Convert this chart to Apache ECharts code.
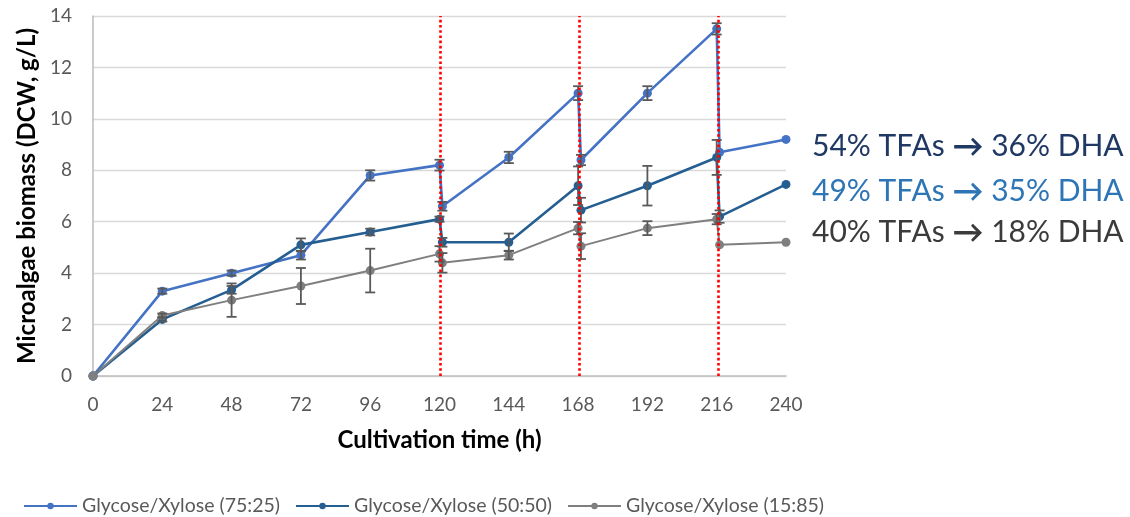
<!DOCTYPE html>
<html>
<head>
<meta charset="utf-8">
<script src="https://cdn.jsdelivr.net/npm/echarts@6/dist/echarts.min.js"></script>
<style>
  html, body { margin: 0; padding: 0; background: #ffffff; }
  #chart { width: 1130px; height: 517px; }
</style>
</head>
<body>
<div id="chart"></div>
<script>
// Sampling times (h); the extra hour after each feed marks the post-feed reading
const times = [0, 24, 48, 72, 96, 120, 121, 144, 168, 169, 192, 216, 217, 240];
const xTicks = [0, 24, 48, 72, 96, 120, 144, 168, 192, 216, 240];
const feedTimes = [120.4, 168.3, 216.4];

// Dry cell weight (g/L) and standard deviations per glucose/xylose ratio
const seriesNames = ['Glycose/Xylose (75:25)', 'Glycose/Xylose (50:50)', 'Glycose/Xylose (15:85)'];
const dcw7525 = [0, 3.3, 4.0, 4.7, 7.8, 8.2, 6.6, 8.5, 11.0, 8.4, 11.0, 13.5, 8.7, 9.2];
const sd7525  = [null, 0.1, 0.1, 0.17, 0.2, 0.21, 0.17, 0.22, 0.27, 0.2, 0.27, 0.22, null, null];
const dcw5050 = [0, 2.2, 3.35, 5.1, 5.6, 6.1, 5.2, 5.2, 7.4, 6.45, 7.4, 8.5, 6.2, 7.45];
const sd5050  = [null, 0.08, 0.15, 0.25, 0.13, 0.1, 0.17, 0.34, 0.75, 0.48, 0.77, 0.68, 0.24, null];
const dcw1585 = [0, 2.35, 2.95, 3.5, 4.1, 4.75, 4.4, 4.7, 5.75, 5.05, 5.75, 6.1, 5.1, 5.2];
const sd1585  = [null, 0.08, 0.65, 0.7, 0.85, 0.3, 0.38, 0.17, 0.24, 0.5, 0.27, 0.2, null, null];

// Lipid outcome notes: [total fatty acids, DHA]
const notes = [['54% TFAs', '36% DHA'], ['49% TFAs', '35% DHA'], ['40% TFAs', '18% DHA']];
const noteColors = ['#203864', '#2E75B6', '#3B3B3B'];

const lineColors = ['#4472C4', '#255E91', '#7F7F7F'];
const FONT = 'Lato, "Open Sans", sans-serif';

function points(values) {
  return times.map((t, i) => [t, values[i]]);
}
function errorRanges(values, sds) {
  const out = [];
  times.forEach((t, i) => {
    if (sds[i] != null) out.push([t, values[i] - sds[i], values[i] + sds[i]]);
  });
  return out;
}

function renderErrorBar(params, api) {
  const x = api.value(0);
  const lo = api.coord([x, api.value(1)]);
  const hi = api.coord([x, api.value(2)]);
  const w = 5;
  const style = { stroke: '#595959', lineWidth: 1.8 };
  return {
    type: 'group',
    children: [
      { type: 'line', shape: { x1: lo[0], y1: lo[1], x2: hi[0], y2: hi[1] }, style },
      { type: 'line', shape: { x1: lo[0] - w, y1: lo[1], x2: lo[0] + w, y2: lo[1] }, style },
      { type: 'line', shape: { x1: hi[0] - w, y1: hi[1], x2: hi[0] + w, y2: hi[1] }, style }
    ]
  };
}

const valueSets = [dcw7525, dcw5050, dcw1585];
const sdSets = [sd7525, sd5050, sd1585];
const widths = [2.6, 2.6, 2.0];

const series = [];
valueSets.forEach((vals, k) => {
  series.push({
    name: seriesNames[k],
    type: 'line',
    data: points(vals),
    symbol: 'circle',
    symbolSize: 9,
    z: 2 + k * 0.1,
    itemStyle: { color: lineColors[k] },
    lineStyle: { color: lineColors[k], width: widths[k] },
    emphasis: { disabled: true }
  });
});
valueSets.forEach((vals, k) => {
  series.push({
    name: seriesNames[k] + ' SD',
    type: 'custom',
    data: errorRanges(vals, sdSets[k]),
    renderItem: renderErrorBar,
    encode: { x: 0, y: [1, 2] },
    z: 3,
    silent: true
  });
});
// Feeding events shown as red dotted vertical lines
series.push({
  name: 'feeds',
  type: 'line',
  data: [],
  z: 5,
  markLine: {
    silent: true,
    symbol: 'none',
    label: { show: false },
    lineStyle: { color: '#FF0000', width: 2.6, type: [2.6, 2.6] },
    data: feedTimes.map(t => ({ xAxis: t }))
  }
});

const chart = echarts.init(document.getElementById('chart'), null, { renderer: 'canvas' });
chart.setOption({
  animation: false,
  backgroundColor: '#ffffff',
  grid: { left: 93, right: 344, top: 16, bottom: 141, containLabel: false },
  xAxis: {
    type: 'value',
    min: 0,
    max: 240,
    interval: 24,
    name: 'Cultivation time (h)',
    nameLocation: 'middle',
    nameGap: 52,
    nameTextStyle: { fontFamily: FONT, fontSize: 24, fontWeight: 'bold', color: '#000000' },
    axisLine: { show: true, lineStyle: { color: '#BFBFBF', width: 1.6 } },
    axisTick: { show: false },
    splitLine: { show: false },
    axisLabel: {
      margin: 19,
      fontFamily: FONT,
      fontSize: 19,
      color: '#595959',
      formatter: v => (xTicks.indexOf(v) >= 0 ? String(v) : '')
    }
  },
  yAxis: {
    type: 'value',
    min: 0,
    max: 14,
    interval: 2,
    name: 'Microalgae biomass (DCW, g/L)',
    nameLocation: 'middle',
    nameGap: 48,
    nameTextStyle: { fontFamily: FONT, fontSize: 24, fontWeight: 'bold', color: '#000000' },
    axisLine: { show: true, lineStyle: { color: '#BFBFBF', width: 1.6 } },
    axisTick: { show: false },
    splitLine: { show: true, lineStyle: { color: '#D9D9D9', width: 1.3 } },
    axisLabel: { margin: 21, fontFamily: FONT, fontSize: 19, color: '#595959' }
  },
  legend: {
    data: seriesNames,
    left: 23,
    top: 496,
    padding: 0,
    itemWidth: 53,
    itemHeight: 8,
    itemGap: 15,
    textStyle: { fontFamily: FONT, fontSize: 19.5, color: '#595959' }
  },
  graphic: notes.map((pair, i) => ({
    type: 'text',
    left: 812,
    top: [131, 176, 217][i],
    style: {
      text: pair[0] + ' {a|\u2192} ' + pair[1],
      fontFamily: FONT,
      fontSize: 30,
      fill: noteColors[i],
      rich: {
        a: { fontFamily: FONT, fontSize: 31, fontWeight: 'bold', fill: noteColors[i] }
      }
    }
  })),
  series
});
</script>
</body>
</html>
